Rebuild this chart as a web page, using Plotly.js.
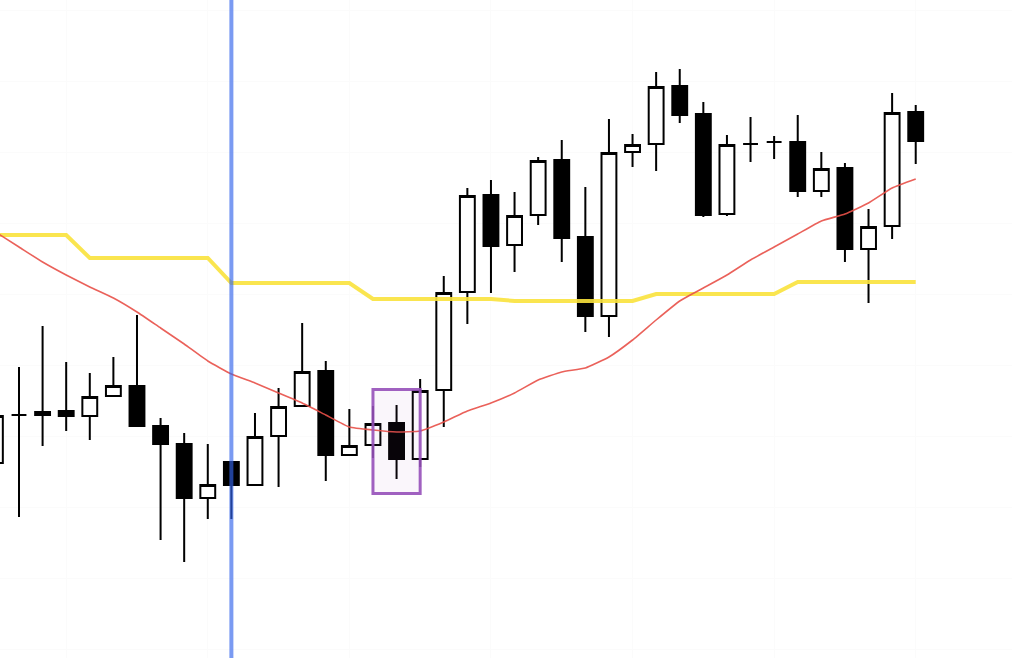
<!DOCTYPE html>
<html>
<head>
<meta charset="utf-8">
<script src="https://cdn.plot.ly/plotly-3.0.1.min.js"></script>
<style>html,body{margin:0;padding:0;background:#fff;}#chart{width:1012px;height:658px;}</style>
</head>
<body>
<div id="chart"></div>
<script>
// Candle index (time order)
const idx = Array.from({length: 40}, (_, i) => i);
// OHLC values (price units)
const openP  = [195,243,243,247,242,262,272,232,214,160,196,173,222,252,287,203,213,235,199,268,366,463,413,443,498,421,342,506,514,572,544,444,514,516,516,467,490,409,432,546];
const highP  = [250,291,332,296,285,301,343,240,225,214,196,245,270,335,297,249,252,253,279,382,470,478,466,501,518,471,539,524,586,589,556,523,541,522,543,506,495,449,565,553];
const lowP   = [188,141,212,227,218,262,232,118, 96,139,139,173,171,252,177,202,200,179,191,231,334,365,386,433,396,326,321,491,487,535,441,442,496,499,461,461,396,355,419,494];
const closeP = [242,243,246,242,261,272,232,214,160,173,173,221,251,286,203,212,234,199,267,365,462,412,442,497,420,342,505,513,571,543,443,513,514,516,467,489,409,431,545,517];
// Yellow step line (baseline)
const baseLine = [423,423,423,423,400,400,400,400,400,400,375,375,375,375,375,375,359,359,359,359,359,359,357,357,357,357,357,357,364,364,364,364,364,364,376,376,376,376,376,376];
// Red moving average (pixel readings converted to price)
const maPix = [232,247,262,275,287,298,312,328,344,361,374,383,393,403,415,427,430,432,431,422,411,403,393,380,372,368,357,340,320,301,288,275,260,247,234,221,214,203,188,179];
const maLine = maPix.map(v => 658 - v);
// Markers
const markerIndex = 10;
const boxFrom = 16, boxTo = 18, boxLow = 164.5, boxHigh = 268.5;

const traces = [
  {type:'scatter', mode:'lines', x: idx, y: baseLine, line:{color:'rgba(249,226,60,0.9)', width:4}, hoverinfo:'skip', showlegend:false},
  {type:'scatter', mode:'lines', x: idx, y: maLine, line:{color:'rgba(232,80,72,0.9)', width:1.6, shape:'spline', smoothing:0.4}, hoverinfo:'skip', showlegend:false},
  {type:'candlestick', x: idx, open: openP, high: highP, low: lowP, close: closeP,
   increasing:{line:{color:'#000', width:2}, fillcolor:'#ffffff'},
   decreasing:{line:{color:'#000', width:2}, fillcolor:'#000000'},
   whiskerwidth:0, hoverinfo:'skip', showlegend:false}
];

const layout = {
  width:1012, height:658,
  margin:{l:0,r:0,t:0,b:0},
  paper_bgcolor:'#ffffff', plot_bgcolor:'#ffffff',
  showlegend:false, hovermode:false, boxgap:0.1,
  xaxis:{range:[0.195, 43.08], showticklabels:false, ticks:'', zeroline:false, showline:false,
         showgrid:true, gridcolor:'#fbfbfb', tick0:3, dtick:6, rangeslider:{visible:false}, fixedrange:true},
  yaxis:{range:[0, 658], showticklabels:false, ticks:'', zeroline:false, showline:false,
         showgrid:true, gridcolor:'#fbfbfb', tick0:222, dtick:71, fixedrange:true},
  shapes:[
    {type:'rect', xref:'x', yref:'y', x0:boxFrom, x1:boxTo, y0:boxLow, y1:boxHigh,
     line:{color:'rgba(150,80,185,0.9)', width:3}, fillcolor:'rgba(150,80,185,0.05)', layer:'above'},
    {type:'line', xref:'x', yref:'paper', x0:markerIndex, x1:markerIndex, y0:0, y1:1,
     line:{color:'rgba(50,100,235,0.65)', width:4}, layer:'above'}
  ]
};

Plotly.newPlot('chart', traces, layout, {displayModeBar:false, staticPlot:true});
</script>
</body>
</html>
